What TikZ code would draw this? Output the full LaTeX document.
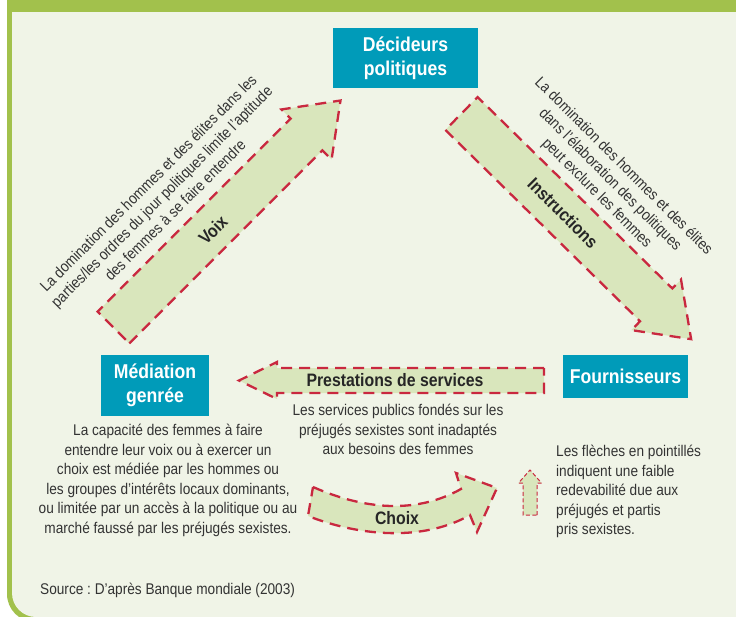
\documentclass[tikz,border=0pt]{standalone}
\usepackage{fontspec}
\setmainfont[FakeStretch=0.88]{Liberation Sans}
\frenchspacing

\definecolor{cadrevert}{HTML}{A2C14C}
\definecolor{fond}{HTML}{F0F4E7}
\definecolor{bleuboite}{HTML}{009BB9}
\definecolor{vertfleche}{HTML}{D9E6BC}
\definecolor{rougetiret}{HTML}{C9283F}
\definecolor{gristexte}{HTML}{333333}

\begin{document}
\begin{tikzpicture}[x=1pt,y=-1pt,
    boite/.style={fill=bleuboite, text=white, inner sep=0pt, align=center,
      font=\bfseries\fontsize{20}{24}\selectfont},
    texte/.style={text=gristexte, inner sep=0pt, align=center,
      font=\fontsize{15.5}{19.5}\selectfont},
    etiquette/.style={text=black!85, inner sep=0pt,
      font=\bfseries\fontsize{18}{20}\selectfont},
    tirets/.style={line width=2.3pt, dash pattern=on 11pt off 7pt},
    tiretsfins/.style={line width=1pt, dash pattern=on 4pt off 2.5pt},
    pics/fleche/.style args={#1/#2/#3/#4}{code={
      \filldraw[fill=vertfleche, draw=rougetiret]
        (0,#2) -- ({#1-#4},#2) -- ({#1-#4},#3) -- (#1,0)
        -- ({#1-#4},-#3) -- ({#1-#4},-#2) -- (0,-#2) -- cycle;
    }}]

  \useasboundingbox (0,0) rectangle (736,616);
  \clip (0,0) rectangle (736,616);

  % cadre
  \fill[white] (0,0) rectangle (736,616);
  \fill[cadrevert, rounded corners=28] (7,0) rectangle (800,622);
  \fill[cadrevert] (7,0) rectangle (100,100);
  \fill[fond, rounded corners=24] (12,12) rectangle (796,617);
  \fill[fond] (12,12) rectangle (100,100);

  % fleches
  \pic[rotate=45, tirets]    at (113.5,327.5) {fleche=321/22.5/35.4/48};
  \pic[rotate=-44.5, tirets] at (461.5,113.5) {fleche=322/23/35.4/49};
  \pic[rotate=180, tirets]   at (544,380.5)   {fleche=305/12.5/18.5/38};
  \pic[rotate=90, tiretsfins] at (530,515)    {fleche=45/7/11.5/13};
  \filldraw[fill=vertfleche, draw=rougetiret, tirets]
    (313,487) .. controls (370,512) and (420,512) .. (461,489)
    -- (456,473) -- (497,488) -- (477,532) -- (470,515)
    .. controls (430,538) and (370,540) .. (308,516) -- cycle;

  % boites
  \node[boite, minimum width=145pt, minimum height=60pt] (decideurs) at (405.5,58)
    {Décideurs\\politiques};
  \node[boite, minimum width=108pt, minimum height=61pt] (mediation) at (155,385.5)
    {Médiation\\genrée};
  \node[boite, minimum width=125pt, minimum height=43pt] (fournisseurs) at (625.5,376.5)
    {Fournisseurs};

  % etiquettes des fleches
  \node[etiquette, rotate=45]  (voix)   at (213,230) {Voix};
  \node[etiquette, rotate=-45] (instr)  at (563,213) {Instructions};
  \node[etiquette]             (presta) at (395,380) {Prestations de services};
  \node[etiquette]             (choix)  at (397,518) {Choix};

  % textes
  \node[texte, rotate=45, font=\fontsize{15.5}{19}\selectfont] (voixtexte) at (161.5,196.5)
    {La domination des hommes et des élites dans les\\
     parties/les ordres du jour politiques limite l’aptitude\\
     des femmes à se faire entendre};
  \node[texte, rotate=-45, font=\fontsize{15.5}{19}\selectfont] (instrtexte) at (610,180)
    {La domination des hommes et des élites\\
     dans l’élaboration des politiques\\
     peut exclure les femmes};
  \node[texte] (prestatexte) at (398,429.5)
    {Les services publics fondés sur les\\
     préjugés sexistes sont inadaptés\\
     aux besoins des femmes};
  \node[texte] (mediationtexte) at (168,480.5)
    {La capacité des femmes à faire\\
     entendre leur voix ou à exercer un\\
     choix est médiée par les hommes ou\\
     les groupes d’intérêts locaux dominants,\\
     ou limitée par un accès à la politique ou au\\
     marché faussé par les préjugés sexistes.};
  \node[texte, align=left, anchor=west] (legende) at (556,491.5)
    {Les flèches en pointillés\\
     indiquent une faible\\
     redevabilité due aux\\
     préjugés et partis\\
     pris sexistes.};
  \node[texte, anchor=west] (source) at (40,590)
    {Source : D’après Banque mondiale (2003)};
\end{tikzpicture}
\end{document}
